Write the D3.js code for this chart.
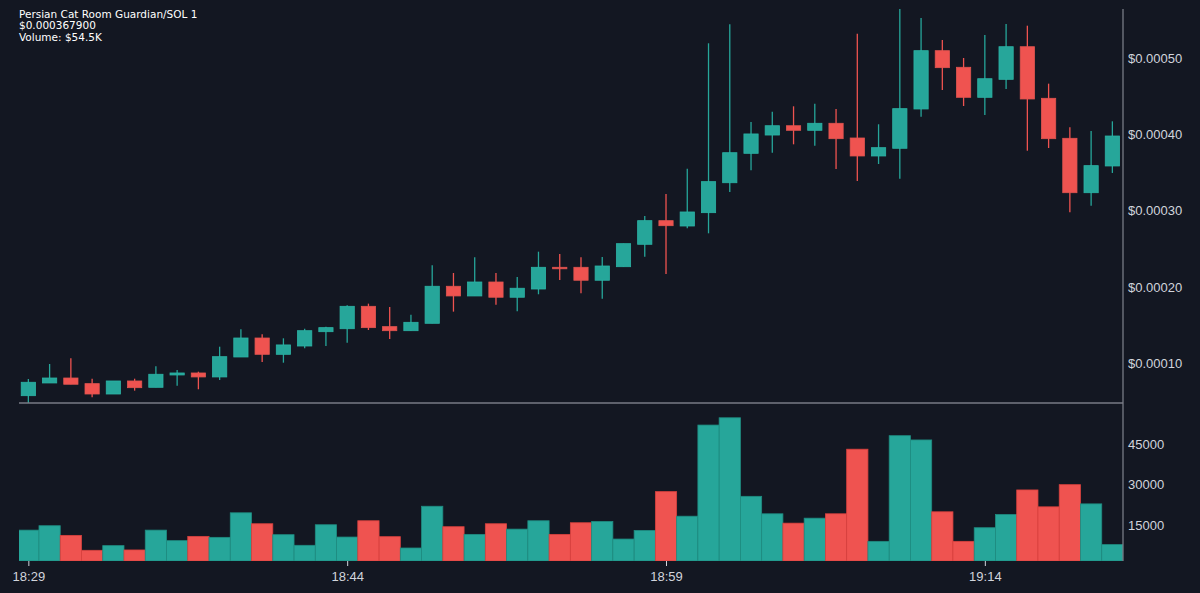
<!DOCTYPE html>
<html>
<head>
<meta charset="utf-8">
<script src="https://cdn.jsdelivr.net/npm/d3@7"></script>
<style>
  html, body { margin: 0; padding: 0; background: #131722; }
  svg { display: block; font-family: "DejaVu Sans", sans-serif; }
  .axis text { fill: #d1d4dc; font-size: 13px; }
  .axis path { display: none; }
  .axis line { stroke: #d1d4dc; }
</style>
</head>
<body>
<svg id="chart" width="1200" height="593"></svg>
<script>
// Persian Cat Room Guardian/SOL — 1 minute candles + volume

const TITLE = ["Persian Cat Room Guardian/SOL 1", "$0.000367900", "Volume: $54.5K"];

const times = [
  "18:29", "18:30", "18:31", "18:32", "18:33", "18:34", "18:35", "18:36", "18:37", "18:38",
  "18:39", "18:40", "18:41", "18:42", "18:43", "18:44", "18:45", "18:46", "18:47", "18:48",
  "18:49", "18:50", "18:51", "18:52", "18:53", "18:54", "18:55", "18:56", "18:57", "18:58",
  "18:59", "19:00", "19:01", "19:02", "19:03", "19:04", "19:05", "19:06", "19:07", "19:08",
  "19:09", "19:10", "19:11", "19:12", "19:13", "19:14", "19:15", "19:16", "19:17", "19:18",
  "19:19", "19:20"
];

// prices in units of 1e-5 SOL
const open = [
  5.72, 7.39, 8.04, 7.30, 5.94, 7.65, 6.82, 8.44, 8.70, 8.18,
  10.80, 13.29, 11.15, 12.24, 14.12, 14.51, 17.45, 14.78, 14.25, 15.22,
  20.08, 18.81, 20.64, 18.64, 19.72, 22.57, 22.57, 20.87, 22.65, 25.59,
  28.69, 27.99, 29.74, 33.67, 37.53, 39.93, 41.15, 40.55, 41.47, 39.54,
  37.18, 38.19, 43.35, 51.00, 48.82, 44.88, 47.24, 51.52, 44.75, 39.50,
  32.36, 35.87
];
const high = [
  7.91, 9.88, 10.63, 7.95, 7.65, 7.95, 9.58, 9.09, 8.87, 12.15,
  14.44, 13.78, 13.25, 14.51, 14.78, 17.59, 17.80, 17.36, 16.35, 22.83,
  21.82, 23.88, 21.82, 21.30, 24.62, 24.32, 23.88, 23.92, 25.67, 29.30,
  32.19, 35.51, 51.97, 54.46, 41.64, 42.99, 43.70, 44.04, 43.35, 53.23,
  41.34, 56.47, 55.29, 52.40, 50.04, 53.06, 54.50, 54.28, 46.67, 40.94,
  40.46, 41.73
];
const low = [
  4.76, 7.39, 7.22, 5.51, 5.94, 6.38, 6.82, 7.03, 6.56, 7.78,
  10.80, 10.14, 10.05, 11.94, 12.24, 12.68, 14.34, 13.16, 14.25, 15.22,
  16.75, 18.81, 17.66, 16.80, 19.03, 20.91, 19.16, 18.45, 22.65, 23.96,
  21.69, 27.69, 27.03, 32.45, 35.30, 37.61, 38.71, 38.53, 35.47, 33.90,
  36.13, 34.20, 42.34, 45.84, 43.74, 42.56, 45.97, 37.87, 38.23, 29.79,
  30.66, 34.95
];
const close = [
  7.48, 8.04, 7.22, 5.94, 7.65, 6.77, 8.53, 8.70, 8.18, 10.84,
  13.29, 11.15, 12.38, 14.25, 14.65, 17.45, 14.65, 14.25, 15.35, 20.08,
  18.81, 20.64, 18.64, 19.82, 22.57, 22.39, 20.87, 22.74, 25.67, 28.69,
  28.03, 29.83, 33.81, 37.61, 40.07, 41.15, 40.55, 41.47, 39.45, 37.18,
  38.27, 43.39, 51.00, 48.77, 44.88, 47.32, 51.52, 44.66, 39.45, 32.36,
  35.91, 39.80
];
const volume = [
  13150, 14780, 11200, 5670, 7400, 5790, 13150, 9250, 10830, 10470,
  19570, 15510, 11460, 7520, 15140, 10580, 16620, 10720, 6520, 22000,
  14410, 11570, 15510, 13520, 16620, 11570, 15880, 16360, 9840, 13040,
  27420, 18310, 52100, 54800, 25680, 19200, 15730, 17580, 19200, 43150,
  8990, 48160, 46580, 19940, 8990, 14040, 18940, 28040, 21780, 30000,
  22880, 7780
];

const xTicks = ["18:29", "18:44", "18:59", "19:14"];
const priceTicks = [10, 20, 30, 40, 50];
const volumeTicks = [15000, 30000, 45000];

const UP = "#26a69a", DOWN = "#ef5350";
const SPINE = "#787b86";

const candles = times.map((t, i) => ({
  i, t, o: open[i], h: high[i], l: low[i], c: close[i], v: volume[i]
}));
const isUp = d => d.c >= d.o;

const svg = d3.select("#chart");
const left = 19, right = 1123;
const priceTop = 9, priceBottom = 403, volBottom = 561;

svg.append("rect").attr("width", 1200).attr("height", 593).attr("fill", "#131722");

// ── scales ──
const x = d3.scaleLinear().domain([-0.44, candles.length - 0.5]).range([left, right]);
const step = x(1) - x(0);
const y = d3.scaleLinear()
  .domain([d3.min(low), d3.max(high)])
  .range([priceBottom, priceTop]);
const yv = d3.scaleLinear()
  .domain([0.3 * d3.min(volume), 1.1 * d3.max(volume)])
  .range([volBottom, priceBottom]);

// ── clip paths per panel ──
const defs = svg.append("defs");
defs.append("clipPath").attr("id", "clip-price").append("rect")
  .attr("x", left).attr("y", priceTop).attr("width", right - left).attr("height", priceBottom - priceTop);
defs.append("clipPath").attr("id", "clip-vol").append("rect")
  .attr("x", left).attr("y", priceBottom).attr("width", right - left).attr("height", volBottom - priceBottom);

// ── volume bars ──
svg.append("g").attr("clip-path", "url(#clip-vol)")
  .selectAll("rect").data(candles).join("rect")
  .attr("x", d => x(d.i) - step / 2)
  .attr("width", step)
  .attr("y", d => yv(d.v))
  .attr("height", d => volBottom - yv(d.v))
  .attr("fill", d => isUp(d) ? UP : DOWN)
  .attr("stroke", d => isUp(d) ? "#1f8c81" : "#d9413e")
  .attr("stroke-width", 0.8);

// ── candles ──
const cg = svg.append("g").attr("clip-path", "url(#clip-price)");
const bodyW = step * 0.67;
cg.selectAll("line").data(candles).join("line")
  .attr("x1", d => x(d.i)).attr("x2", d => x(d.i))
  .attr("y1", d => y(d.h)).attr("y2", d => y(d.l))
  .attr("stroke", d => isUp(d) ? UP : DOWN)
  .attr("stroke-width", 1.3);
cg.selectAll("rect").data(candles).join("rect")
  .attr("x", d => x(d.i) - bodyW / 2)
  .attr("width", bodyW)
  .attr("y", d => y(Math.max(d.o, d.c)))
  .attr("height", d => Math.max(1.5, Math.abs(y(d.o) - y(d.c))))
  .attr("fill", d => isUp(d) ? UP : DOWN)
  .attr("stroke", d => isUp(d) ? "#2cb3a5" : "#e05550")
  .attr("stroke-width", 0.8);

// ── spines ──
svg.append("line").attr("x1", left).attr("x2", right).attr("y1", priceBottom).attr("y2", priceBottom)
  .attr("stroke", SPINE).attr("stroke-width", 1.3);
svg.append("line").attr("x1", right).attr("x2", right).attr("y1", priceTop).attr("y2", volBottom)
  .attr("stroke", SPINE).attr("stroke-width", 1.3);

// ── axes ──
svg.append("g").attr("class", "axis")
  .attr("transform", `translate(${right},0)`)
  .call(d3.axisRight(y).tickValues(priceTicks).tickSize(0).tickPadding(5)
    .tickFormat(d => "$" + (d * 1e-5).toFixed(5)));

svg.append("g").attr("class", "axis")
  .attr("transform", `translate(${right},0)`)
  .call(d3.axisRight(yv).tickValues(volumeTicks).tickSize(0).tickPadding(5)
    .tickFormat(d3.format("d")));

svg.append("g").attr("class", "axis")
  .attr("transform", `translate(0,${volBottom})`)
  .call(d3.axisBottom(x).tickValues(xTicks.map(t => times.indexOf(t)))
    .tickSize(5).tickPadding(6).tickFormat(i => times[i]));

// ── title block ──
svg.append("g").selectAll("text").data(TITLE).join("text")
  .attr("x", left).attr("y", (d, i) => 17.7 + i * 11.7)
  .attr("fill", "#ffffff").attr("font-size", 10.5)
  .text(d => d);
</script>
</body>
</html>
